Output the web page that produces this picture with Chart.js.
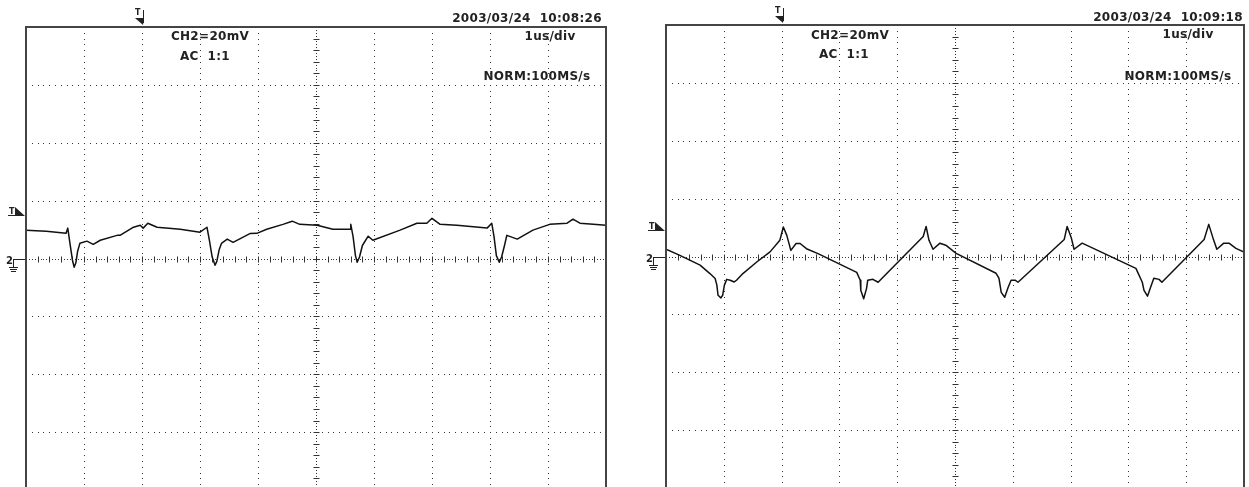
<!DOCTYPE html>
<html>
<head>
<meta charset="utf-8">
<script src="https://cdn.jsdelivr.net/npm/chart.js@4.4.1/dist/chart.umd.min.js"></script>
<style>
  html, body { margin: 0; padding: 0; background: #fff; }
  body { width: 1249px; height: 487px; overflow: hidden; position: relative; }
  .scope { position: absolute; top: 0; }
  .lbl {
    position: absolute;
    font-family: "DejaVu Sans", sans-serif;
    font-weight: bold;
    font-size: 12px;
    line-height: 12px;
    letter-spacing: 0.3px;
    color: #222;
    white-space: pre;
    transform: translateX(-50%);
  }
</style>
</head>
<body>
<div class="scope" style="left:0px"><canvas id="scopeLeft" width="620" height="500"></canvas></div>
<div class="scope" style="left:630px"><canvas id="scopeRight" width="619" height="500"></canvas></div>

<div class="lbl" style="left:527px; top:12px">2003/03/24  10:08:26</div>
<div class="lbl" style="left:210px; top:30px">CH2=20mV</div>
<div class="lbl" style="left:205px; top:50px">AC  1:1</div>
<div class="lbl" style="left:550px; top:30px">1us/div</div>
<div class="lbl" style="left:537px; top:70px">NORM:100MS/s</div>

<div class="lbl" style="left:1168px; top:11px">2003/03/24  10:09:18</div>
<div class="lbl" style="left:850px; top:29px">CH2=20mV</div>
<div class="lbl" style="left:844px; top:48px">AC  1:1</div>
<div class="lbl" style="left:1188px; top:28px">1us/div</div>
<div class="lbl" style="left:1178px; top:70px">NORM:100MS/s</div>

<script>
// screen: 10 div x 1 us, 8 div x 20 mV
const X_MIN = 0, X_MAX = 10, X_DIV = 1;
const Y_MIN = -80, Y_MAX = 80, Y_DIV = 20;
const TRIG_TIME = 2;

// left capture 10:08:26 (time in us, CH2 in mV)
const leftTime = [0, 0.35, 0.69, 0.72, 0.76, 0.80, 0.83, 0.86, 0.89, 0.93, 1.05, 1.16, 1.28, 1.57,
  1.62, 1.84, 1.97, 2.02, 2.10, 2.26, 2.66, 3.00, 3.12, 3.16, 3.21, 3.26, 3.29, 3.33, 3.37,
  3.47, 3.57, 3.86, 3.98, 4.15, 4.43, 4.59, 4.72, 5.02, 5.29, 5.59, 5.60, 5.64, 5.68, 5.71,
  5.75, 5.80, 5.90, 5.98, 6.45, 6.74, 6.91, 7.00, 7.14, 7.43, 7.95, 8.03, 8.07, 8.11, 8.16,
  8.20, 8.25, 8.29, 8.47, 8.74, 9.03, 9.33, 9.43, 9.55, 9.78, 10.00];
const leftVolt = [9.8, 9.4, 8.7, 10.5, 5.0, -0.5, -3.0, -1.5, 2.5, 5.3, 6.0, 4.9, 6.3, 8.0,
  8.0, 10.7, 11.5, 10.5, 12.2, 10.8, 10.1, 9.1, 10.8, 6.5, 0.5, -2.3, -1.0, 3.0, 5.2,
  6.7, 5.6, 8.6, 8.7, 10.1, 11.8, 12.9, 11.8, 11.5, 10.1, 10.1, 11.8, 7.5, 1.0, -1.3,
  0.5, 4.5, 7.7, 6.3, 9.8, 12.2, 12.2, 13.9, 11.8, 11.5, 10.5, 12.2, 7.5, 1.0, -1.3,
  0.5, 4.5, 8.0, 6.7, 9.8, 11.8, 12.2, 13.6, 12.2, 11.8, 11.5];
const leftTrigLevel = 15;

// right capture 10:09:18
const rightTime = [0, 0.24, 0.59, 0.76, 0.85, 0.88, 0.90, 0.95, 0.98, 1.01, 1.05, 1.11, 1.18,
  1.22, 1.33, 1.57, 1.80, 1.97, 2.03, 2.09, 2.16, 2.25, 2.32, 2.43, 2.63, 3.30, 3.36, 3.37,
  3.42, 3.47, 3.49, 3.58, 3.67, 4.45, 4.50, 4.55, 4.62, 4.74, 4.84, 5.02, 5.71, 5.76, 5.80,
  5.86, 5.92, 5.97, 6.04, 6.09, 6.89, 6.94, 7.01, 7.06, 7.20, 7.32, 8.13, 8.24, 8.27, 8.33,
  8.39, 8.44, 8.53, 8.58, 9.31, 9.39, 9.46, 9.53, 9.65, 9.74, 9.86, 10.00];
const rightVolt = [2.5, 0.4, -3.0, -5.9, -7.6, -9.9, -13.4, -14.3, -13.4, -9.9, -7.9, -8.2, -8.8,
  -8.2, -5.9, -1.9, 1.6, 5.6, 10.2, 7.3, 2.1, 4.5, 4.5, 2.7, 1.0, -5.5, -8.2, -11.7,
  -14.6, -11.0, -8.2, -7.9, -8.9, 6.9, 10.4, 5.6, 2.5, 4.6, 3.9, 1.1, -5.8, -7.5, -12.4,
  -14.1, -10.6, -8.2, -8.2, -8.9, 5.9, 10.4, 6.6, 2.5, 4.6, 3.5, -4.1, -8.9, -11.7, -13.7,
  -10.3, -7.5, -7.9, -8.9, 5.9, 11.1, 6.6, 2.5, 4.6, 4.6, 2.8, 1.5];
const rightTrigLevel = 9;

const INK = '#222';

function dot(ctx, px, py) {
  ctx.fillRect(Math.round(px), Math.round(py), 1, 1);
}

const scopeGrid = {
  id: 'scopeGrid',
  beforeDatasetsDraw(chart) {
    const { ctx, scales: { x, y } } = chart;
    const nx = (X_MAX - X_MIN) / X_DIV, ny = (Y_MAX - Y_MIN) / Y_DIV;
    ctx.save();
    ctx.fillStyle = '#333';
    // vertical dotted lines
    for (let i = 1; i < nx; i++) {
      const px = x.getPixelForValue(X_MIN + i * X_DIV);
      const sub = (i === nx / 2) ? 20 : 10;
      for (let k = 1; k < ny * sub; k++) {
        dot(ctx, px, y.getPixelForValue(Y_MIN + k * Y_DIV / sub));
      }
    }
    // horizontal dotted lines
    for (let j = 1; j < ny; j++) {
      const py = y.getPixelForValue(Y_MIN + j * Y_DIV);
      const sub = (j === ny / 2) ? 20 : 10;
      for (let k = 1; k < nx * sub; k++) {
        dot(ctx, x.getPixelForValue(X_MIN + k * X_DIV / sub), py);
      }
    }
    // minor ticks on the centre axes
    ctx.strokeStyle = '#333';
    ctx.lineWidth = 1;
    const cx = Math.round(x.getPixelForValue((X_MIN + X_MAX) / 2)) + 0.5;
    const cy = Math.round(y.getPixelForValue((Y_MIN + Y_MAX) / 2)) + 0.5;
    ctx.beginPath();
    for (let k = 1; k < ny * 5; k++) {
      const py = Math.round(y.getPixelForValue(Y_MIN + k * Y_DIV / 5)) + 0.5;
      ctx.moveTo(cx - 3, py); ctx.lineTo(cx + 3, py);
    }
    for (let k = 1; k < nx * 5; k++) {
      const px = Math.round(x.getPixelForValue(X_MIN + k * X_DIV / 5)) + 0.5;
      ctx.moveTo(px, cy - 3); ctx.lineTo(px, cy + 3);
    }
    ctx.stroke();
    ctx.restore();
  },
  afterDraw(chart, args, opts) {
    const { ctx, chartArea: a, scales: { x, y } } = chart;
    ctx.save();
    // screen frame
    ctx.strokeStyle = '#444';
    ctx.lineWidth = 2;
    ctx.strokeRect(a.left, a.top, a.right - a.left, a.bottom - a.top);

    ctx.fillStyle = INK;
    ctx.strokeStyle = INK;
    ctx.lineWidth = 1;
    ctx.font = 'bold 8px "DejaVu Sans"';
    ctx.textBaseline = 'alphabetic';

    // trigger position marker above the screen
    const tx = Math.round(x.getPixelForValue(TRIG_TIME));
    ctx.fillText('T', tx - 7, a.top - 12);
    ctx.beginPath();
    ctx.moveTo(tx + 1.5, a.top - 17); ctx.lineTo(tx + 1.5, a.top - 4);
    ctx.stroke();
    ctx.beginPath();
    ctx.moveTo(tx - 7, a.top - 9); ctx.lineTo(tx + 2, a.top - 9); ctx.lineTo(tx + 1, a.top - 2);
    ctx.closePath(); ctx.fill();

    // trigger level marker at the left
    const ly = Math.round(y.getPixelForValue(opts.level));
    ctx.fillText('T', a.left - 17, ly - 1);
    ctx.fillRect(a.left - 18, ly, 8, 1);
    ctx.beginPath();
    ctx.moveTo(a.left - 11, ly - 8); ctx.lineTo(a.left - 11, ly + 1); ctx.lineTo(a.left - 1, ly + 1);
    ctx.closePath(); ctx.fill();

    // channel 2 ground marker
    const gy = Math.round(y.getPixelForValue(0));
    ctx.font = 'bold 10px "DejaVu Sans"';
    ctx.fillText('2', a.left - 20, gy + 5);
    ctx.fillRect(a.left - 13, gy, 12, 1);
    ctx.fillRect(a.left - 13, gy, 1, 8);
    ctx.fillRect(a.left - 17, gy + 8, 9, 1);
    ctx.fillRect(a.left - 16, gy + 10, 7, 1);
    ctx.fillRect(a.left - 15, gy + 12, 5, 1);
    ctx.restore();
  }
};

function makeScope(id, times, volts, level, pad) {
  const points = times.map((t, i) => ({ x: t, y: volts[i] }));
  return new Chart(document.getElementById(id), {
    type: 'line',
    data: {
      datasets: [{
        data: points,
        borderColor: '#111',
        borderWidth: 1.5,
        borderJoinStyle: 'round',
        pointRadius: 0,
        tension: 0,
        fill: false
      }]
    },
    options: {
      responsive: false,
      animation: false,
      events: [],
      layout: { padding: pad },
      plugins: {
        legend: { display: false },
        tooltip: { enabled: false },
        scopeGrid: { level: level }
      },
      scales: {
        x: { type: 'linear', min: X_MIN, max: X_MAX, display: false },
        y: { type: 'linear', min: Y_MIN, max: Y_MAX, display: false }
      }
    },
    plugins: [scopeGrid]
  });
}

makeScope('scopeLeft', leftTime, leftVolt, leftTrigLevel, { left: 26, top: 27, right: 14, bottom: 10 });
makeScope('scopeRight', rightTime, rightVolt, rightTrigLevel, { left: 36, top: 25, right: 5, bottom: 12 });
</script>
</body>
</html>
